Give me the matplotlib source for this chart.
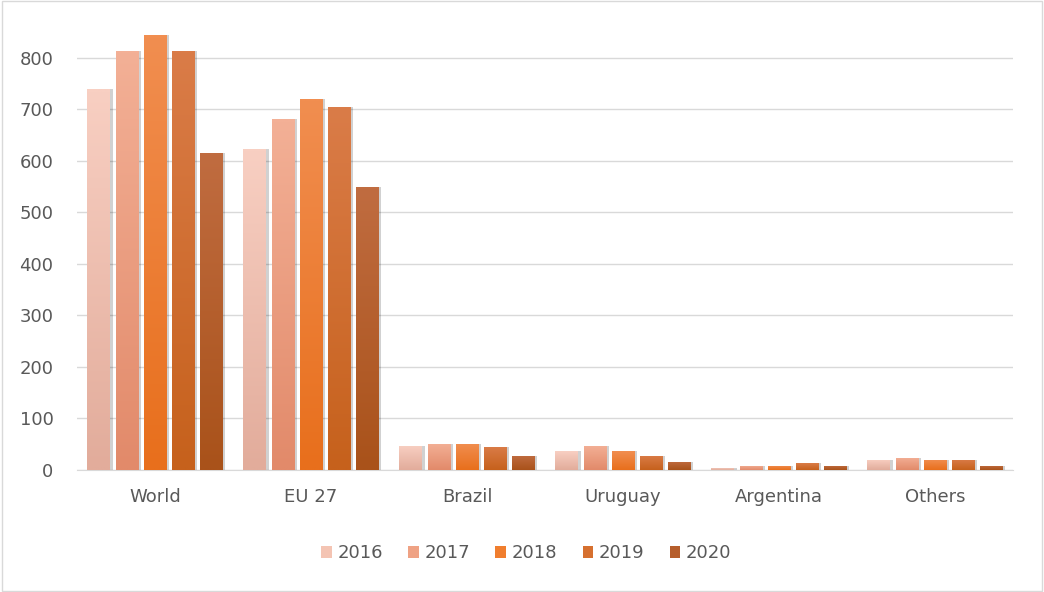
import matplotlib
matplotlib.use('Agg')
import matplotlib.pyplot as plt
from matplotlib.colors import to_rgb
import numpy as np

categories = ['World', 'EU 27', 'Brazil', 'Uruguay', 'Argentina', 'Others']
years = ['2016', '2017', '2018', '2019', '2020']
v2016 = [739, 622, 47, 36, 4, 20]
v2017 = [813, 681, 51, 47, 8, 24]
v2018 = [844, 720, 51, 36, 8, 20]
v2019 = [813, 704, 45, 28, 13, 20]
v2020 = [615, 549, 28, 16, 8, 8]
# (top, bottom) gradient colours per year
colors = ['#F4C4B3', '#EFA284', '#F07E2E', '#D6702F', '#B65E2C']
tops = ['#F8CFC2', '#F3B096', '#F18E50', '#DA7C48', '#C06C40']
bottoms = ['#E2AC9B', '#E28A6A', '#E86F1C', '#C6611C', '#A9521A']


def gradient_fill(ax, bars, top, bottom):
	t = np.array(to_rgb(top))
	b = np.array(to_rgb(bottom))
	ramp = np.linspace(0, 1, 64)[:, None]
	img = (t * (1 - ramp) + b * ramp)[:, None, :]
	for bar in bars:
		x0, w, h = bar.get_x(), bar.get_width(), bar.get_height()
		im = ax.imshow(img, extent=[x0, x0 + w, 0, h], aspect='auto',
			origin='upper', zorder=3.5, interpolation='bilinear')
		im.set_clip_path(bar)


def main():
	plt.rcParams['font.family'] = ['DejaVu Sans']
	fig = plt.figure(figsize=(10.44, 5.92), dpi=100)
	ax = fig.add_axes([0.0738, 0.2061, 0.8966, 0.74])

	series = [v2016, v2017, v2018, v2019, v2020]
	x = np.arange(len(categories))
	slot = 0.18
	bw = 0.147
	for i, vals in enumerate(series):
		off = (i - 2) * slot
		# soft shadow behind bars
		ax.bar(x + off + 0.014, vals, width=bw, color='#000000', alpha=0.18,
			zorder=2, linewidth=0)
		bars = ax.bar(x + off, vals, width=bw, color=colors[i], label=years[i],
			zorder=3, linewidth=0)
		gradient_fill(ax, bars, tops[i], bottoms[i])

	ax.set_xlim(-0.5, len(categories) - 0.5)
	ax.set_ylim(0, 850)
	ax.set_yticks(np.arange(0, 900, 100))
	ax.set_xticks(x)
	ax.set_xticklabels(categories)
	ax.yaxis.grid(True, color='#D9D9D9', linewidth=1, zorder=0)
	ax.set_axisbelow(True)
	for s in ['top', 'right', 'left']:
		ax.spines[s].set_visible(False)
	ax.spines['bottom'].set_color('#D9D9D9')
	ax.tick_params(axis='both', length=0, colors='#595959', labelsize=13)
	ax.tick_params(axis='x', pad=13)
	ax.tick_params(axis='y', pad=17)

	leg = ax.legend(loc='center', bbox_to_anchor=(0.48, -0.19), ncol=5,
		frameon=False, fontsize=13, handlelength=0.6, handleheight=0.6,
		handletextpad=0.3, columnspacing=1.4)
	for t in leg.get_texts():
		t.set_color('#595959')

	fig.patches.append(plt.Rectangle((0.002, 0.002), 0.996, 0.996,
		transform=fig.transFigure, fill=False, edgecolor='#D9D9D9', linewidth=1))
	plt.savefig('out.png', dpi=100)


if __name__ == '__main__':
	main()
